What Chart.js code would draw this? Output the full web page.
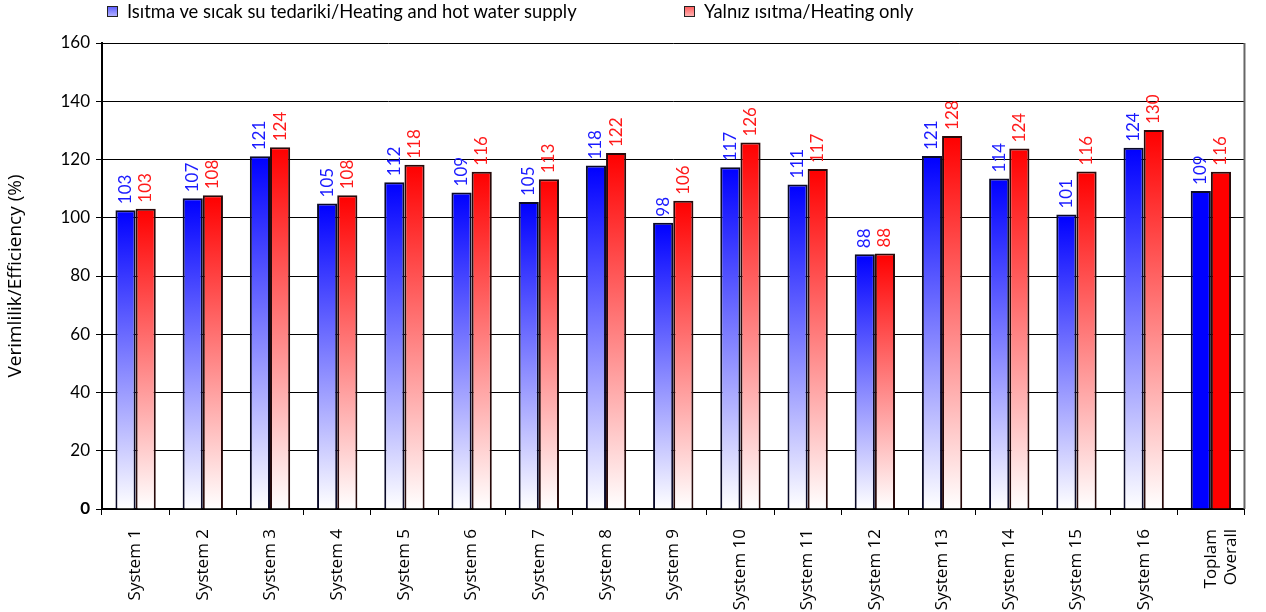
<!DOCTYPE html>
<html>
<head>
<meta charset="utf-8">
<script src="https://cdn.jsdelivr.net/npm/chart.js@4/dist/chart.umd.min.js"></script>
<style>
  body { margin: 0; background: #fff; font-family: Lato, "DejaVu Sans", sans-serif; }
  #wrap { position: relative; width: 1266px; height: 612px; }
  #legend { position: absolute; top: 0; left: 0; width: 1266px; height: 24px; font-size: 18.4px; color: #000; }
  .item { position: absolute; top: 0; display: flex; align-items: center; white-space: nowrap; }
  .box { width: 9px; height: 9px; border: 1px solid #222; margin-right: 9px; }
</style>
</head>
<body>
<div id="wrap">
  <div id="legend"></div>
  <canvas id="chart"></canvas>
</div>
<script>
// ── Data ──────────────────────────────────────────────────
const categories = ['System 1', 'System 2', 'System 3', 'System 4', 'System 5', 'System 6',
    'System 7', 'System 8', 'System 9', 'System 10', 'System 11', 'System 12', 'System 13',
    'System 14', 'System 15', 'System 16', ['Toplam', 'Overall']];
const heatingHotWater = [102.6, 106.7, 121.1, 104.9, 112.2, 108.7, 105.4, 117.9, 98.3,
    117.3, 111.4, 87.5, 121.2, 113.5, 101.1, 124.0, 109.2];
const heatingOnly = [103.1, 107.7, 124.2, 107.7, 118.2, 115.8, 113.2, 122.2, 105.8,
    125.8, 116.7, 87.7, 128.1, 123.8, 115.9, 130.1, 115.8];
const yTicks = [0, 20, 40, 60, 80, 100, 120, 140, 160];

const seriesNames = ['Isıtma ve sıcak su tedariki/Heating and hot water supply', 'Yalnız ısıtma/Heating only'];
const FONT = 'Lato, "DejaVu Sans", sans-serif';
const FONT_ALT = '"Open Sans", "DejaVu Sans", sans-serif';

const palette = [
    { top: '#0000ff', bottom: '#ffffff', solid: '#0000ff', label: '#1a1aff', border: '#0a0a28' },
    { top: '#ff0000', bottom: '#ffffff', solid: '#ff0000', label: '#ff1a1a', border: '#280a0a' }
];

/**
 * Vertical gradient per bar, solid for the overall pair
 */
function barFill(p) {
    return ctx => {
        const chart = ctx.chart;
        if (!chart.chartArea || ctx.type !== 'data') return p.top;
        if (ctx.dataIndex === categories.length - 1) return p.solid;
        const y = chart.scales.y;
        const top = y.getPixelForValue(ctx.raw);
        const base = y.getPixelForValue(0);
        const g = chart.ctx.createLinearGradient(0, top, 0, base);
        g.addColorStop(0, p.top);
        g.addColorStop(1, p.bottom);
        return g;
    };
}

// ── Legend (HTML) ─────────────────────────────────────────
const legendPos = [107, 684];
document.getElementById('legend').innerHTML = seriesNames.map((name, i) =>
    `<div class="item" style="left:${legendPos[i]}px">
        <span class="box" style="background:linear-gradient(${i ? '#ff6060, #ffb0b0' : '#6060ff, #b0b0ff'})"></span>${name}
     </div>`).join('');

// ── Plugins ───────────────────────────────────────────────
const valueLabels = {
    id: 'valueLabels',
    afterDatasetsDraw(chart) {
        const { ctx } = chart;
        ctx.save();
        ctx.font = `17px ${FONT}`;
        ctx.textAlign = 'left';
        ctx.textBaseline = 'middle';
        chart.data.datasets.forEach((ds, di) => {
            const meta = chart.getDatasetMeta(di);
            ctx.fillStyle = palette[di].label;
            meta.data.forEach((bar, i) => {
                ctx.save();
                ctx.translate(bar.x, bar.y - 6);
                ctx.rotate(-Math.PI / 2);
                ctx.fillText(String(Math.round(ds.data[i])), 0, 0);
                ctx.restore();
            });
        });
        ctx.restore();
    }
};

const rightFrame = {
    id: 'rightFrame',
    afterDraw(chart) {
        const { ctx, chartArea: { top, bottom, right } } = chart;
        ctx.save();
        ctx.strokeStyle = '#666';
        ctx.lineWidth = 2;
        ctx.beginPath();
        ctx.moveTo(right, top);
        ctx.lineTo(right, bottom);
        ctx.stroke();
        ctx.restore();
    }
};

// ── Chart ─────────────────────────────────────────────────
new Chart(document.getElementById('chart'), {
    type: 'bar',
    data: {
        labels: categories,
        datasets: [heatingHotWater, heatingOnly].map((values, i) => ({
            label: seriesNames[i],
            data: values,
            backgroundColor: barFill(palette[i]),
            borderColor: palette[i].border,
            borderWidth: 2,
            categoryPercentage: 0.6,
            barPercentage: 1.0
        }))
    },
    plugins: [valueLabels, rightFrame],
    options: {
        responsive: true,
        maintainAspectRatio: false,
        animation: false,
        layout: { padding: { top: 43, right: 11, left: 0, bottom: 0 } },
        plugins: {
            legend: { display: false },
            tooltip: { enabled: false }
        },
        scales: {
            x: {
                afterFit: s => { s.height = 103; },
                grid: { offset: true, drawOnChartArea: false, color: '#000', tickLength: 6 },
                border: { color: '#000', width: 2 },
                ticks: {
                    color: '#000',
                    font: { family: FONT_ALT, size: 17 },
                    minRotation: 90,
                    maxRotation: 90,
                    padding: 14,
                    autoSkip: false
                }
            },
            y: {
                min: 0,
                max: 160,
                afterFit: s => { s.width = 102; },
                afterBuildTicks: s => { s.ticks = yTicks.map(v => ({ value: v })); },
                grid: { color: '#000', lineWidth: 1, tickLength: 6 },
                border: { color: '#000', width: 2 },
                title: {
                    display: true,
                    text: 'Verimlilik/Efficiency (%)',
                    color: '#000',
                    font: { family: FONT_ALT, size: 19 },
                    padding: { top: 4, bottom: 0 }
                },
                ticks: {
                    color: '#000',
                    padding: 6,
                    font: ctx => ({ family: FONT, size: 17, weight: ctx.tick && ctx.tick.value === 0 ? 'bold' : 'normal' })
                }
            }
        }
    }
});
</script>
</body>
</html>
